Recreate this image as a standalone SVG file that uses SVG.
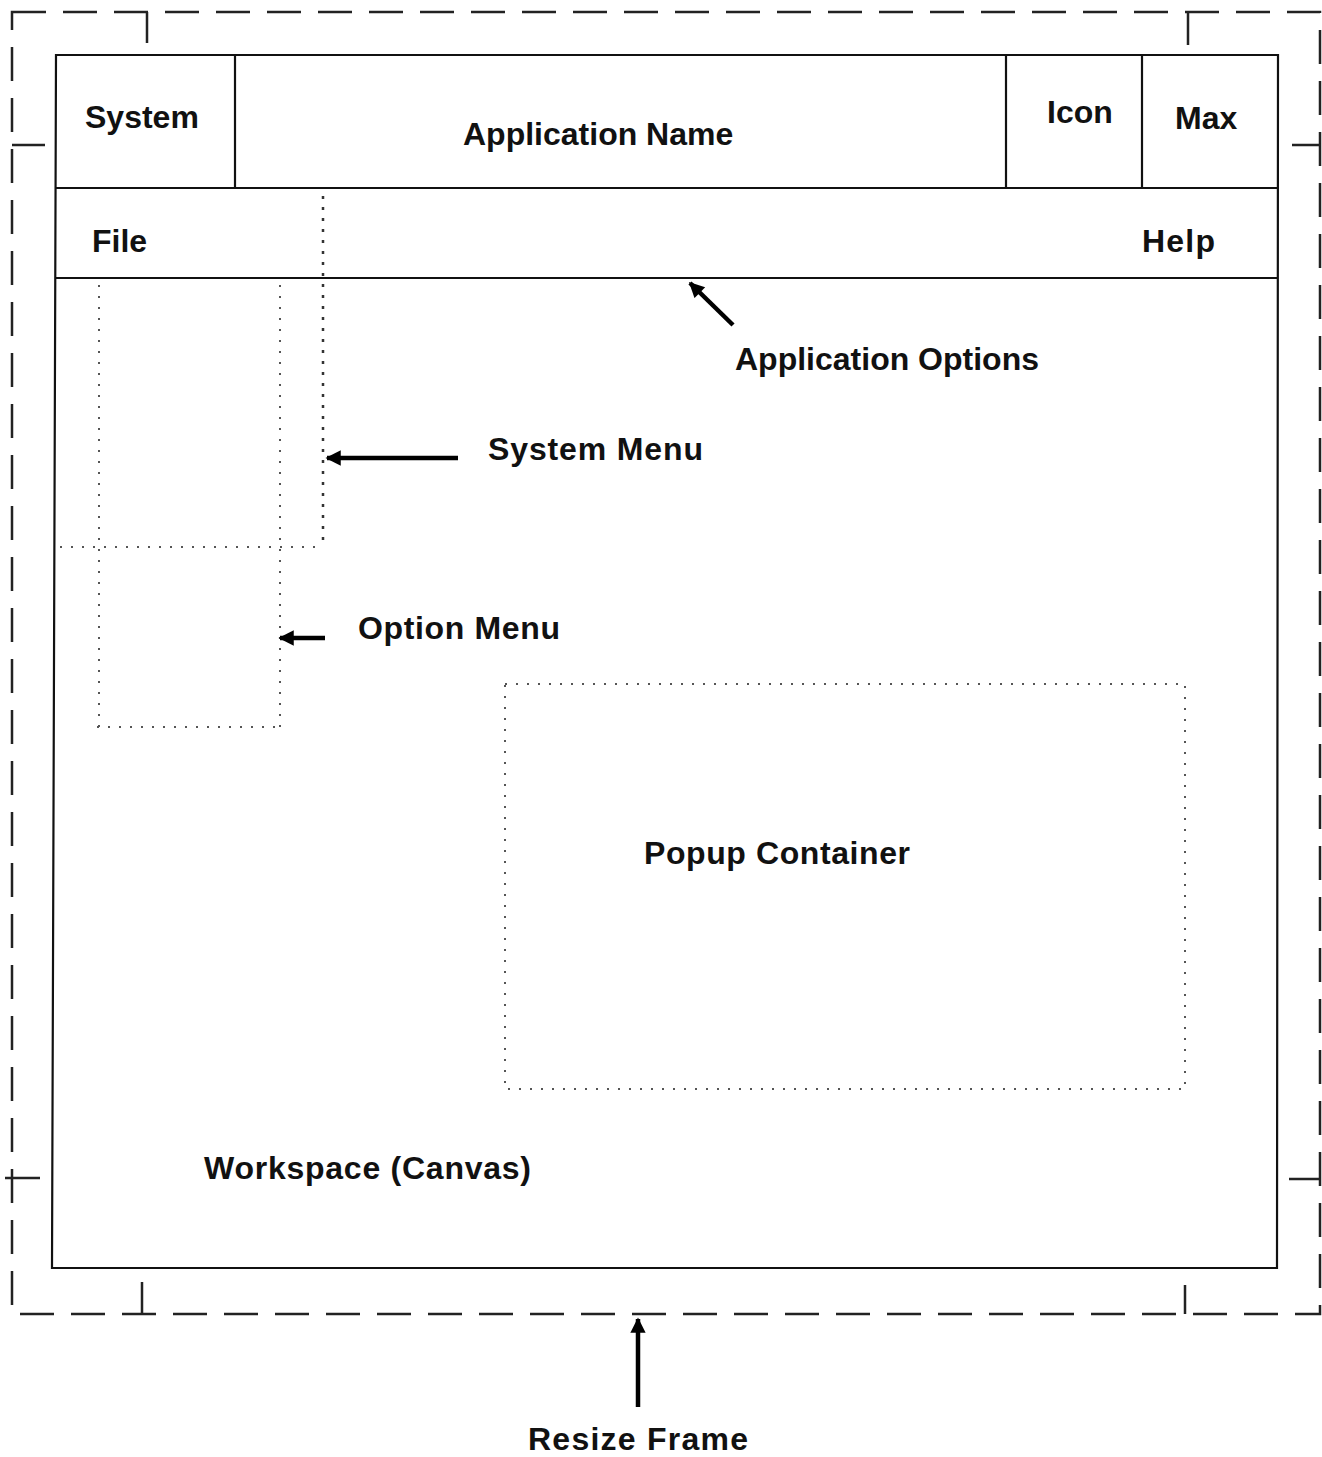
<svg xmlns="http://www.w3.org/2000/svg" width="1322" height="1457" viewBox="0 0 1322 1457">
  <style>
    .frame { fill: none; stroke: #222; stroke-width: 2.5; stroke-dasharray: 34 17; }
    .tick { fill: none; stroke: #222; stroke-width: 2.5; }
    .win { fill: none; stroke: #111; stroke-width: 2.2; }
    .dot { fill: none; stroke: #555; stroke-width: 2; stroke-dasharray: 2 9; }
    .dotdark { fill: none; stroke: #333; stroke-width: 2.5; stroke-dasharray: 3 8; }
    .lbl { font-family: "Liberation Sans", Arial, sans-serif; font-size: 32px; font-weight: bold; fill: #111; }
    .arrow { fill: none; stroke: #000; stroke-width: 4.5; marker-end: url(#head); }
  </style>
  <defs>
    <marker id="head" viewBox="0 0 10 10" refX="9" refY="5" markerWidth="3.8" markerHeight="3.4" orient="auto" markerUnits="strokeWidth">
      <path d="M0,0 L10,5 L0,10 z" fill="#000"/>
    </marker>
  </defs>
  <rect width="1322" height="1457" fill="#fff"/>

  <!-- resize frame with corner handles -->
  <g id="resize-frame">
    <rect class="frame" x="12" y="12" width="1308" height="1302"/>
    <path class="tick" d="M147,12 V43 M1188,12 V45 M12,145 H45 M1292,145 H1321 M5,1178 H40 M1289,1179 H1321 M142,1282 V1314 M1185,1285 V1314"/>
  </g>

  <!-- main window outline -->
  <g id="window">
    <path class="win" d="M56,55 H1278 L1277,1268 H52 Z"/>
    <path class="win" d="M56,188 H1278 M55,278 H1278"/>
  </g>

  <g id="system-button">
    <path class="win" d="M235,55 V188"/>
    <text class="lbl" x="85" y="128">System</text>
  </g>
  <g id="application-name">
    <text class="lbl" x="463" y="145">Application Name</text>
  </g>
  <g id="icon-button">
    <path class="win" d="M1006,55 V188"/>
    <text class="lbl" x="1047" y="123">Icon</text>
  </g>
  <g id="max-button">
    <path class="win" d="M1142,55 V188"/>
    <text class="lbl" x="1175" y="129">Max</text>
  </g>

  <g id="menu-bar">
    <text class="lbl" x="92" y="252">File</text>
    <text class="lbl" x="1142" y="252" textLength="73">Help</text>
  </g>

  <g id="system-menu">
    <path class="dotdark" d="M323,196 V547"/>
    <path class="dot" d="M60,547 H323"/>
    <text class="lbl" x="488" y="460" textLength="215">System Menu</text>
  </g>

  <g id="option-menu">
    <path class="dot" d="M99,285 V727 M280,285 V727 M97,727 H280"/>
    <text class="lbl" x="358" y="639" textLength="202">Option Menu</text>
  </g>

  <g id="popup-container">
    <rect class="dot" x="505" y="684" width="680" height="405"/>
    <text class="lbl" x="644" y="864" textLength="266">Popup Container</text>
  </g>

  <g id="workspace">
    <text class="lbl" x="204" y="1179" textLength="327">Workspace (Canvas)</text>
  </g>

  <g id="application-options">
    <text class="lbl" x="735" y="370">Application Options</text>
  </g>

  <g id="resize-frame-label">
    <text class="lbl" x="528" y="1450" textLength="220">Resize Frame</text>
  </g>

  <!-- pointer arrows -->
  <g id="connectors">
    <path class="arrow" d="M733,325 L690,283"/>
    <path class="arrow" d="M458,458 H327"/>
    <path class="arrow" d="M325,638 H280"/>
    <path class="arrow" d="M638,1407 V1319"/>
  </g>
</svg>
